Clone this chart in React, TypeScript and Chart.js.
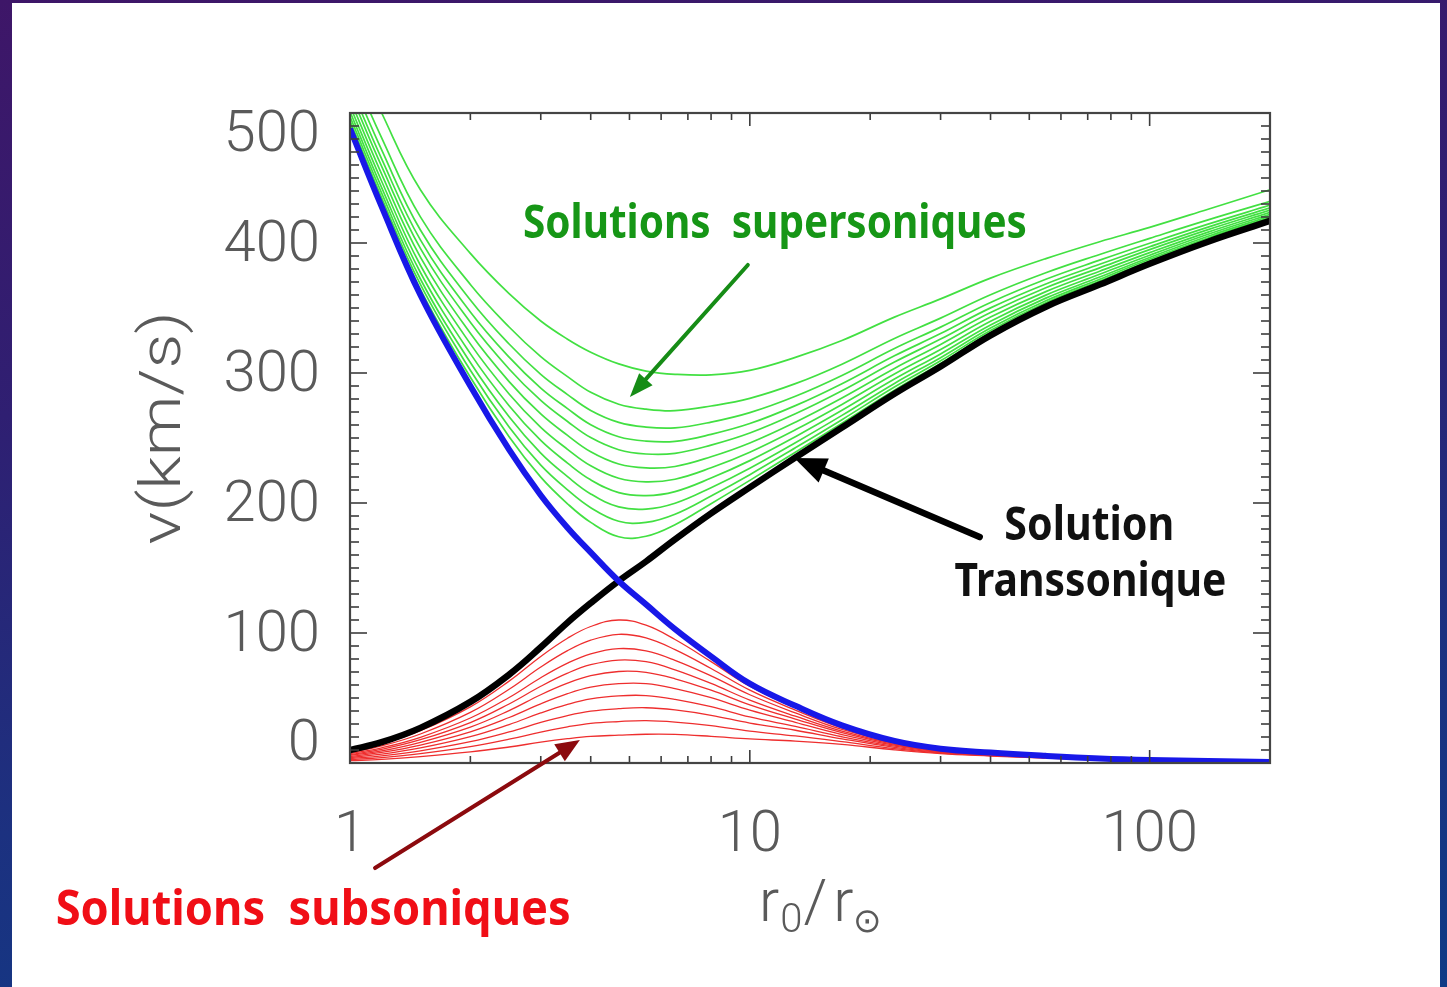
import { useEffect, useRef } from "react";
import { Chart, registerables } from "chart.js";

Chart.register(...registerables);

// Heliocentric distance r0 / r_sun at which every curve is sampled
const radius = [1, 1.2, 1.5, 2, 2.5, 3, 3.5, 4, 4.7, 5.5, 6.5, 8, 10, 13, 17, 23, 30, 40, 55, 75, 100, 140, 200];

// Critical solutions through the sonic point (km/s)
const transonicSolution = [10, 16, 27, 47, 68, 89, 108, 123, 140, 155, 172, 192, 212, 235, 258, 284, 305, 329, 351, 368, 384, 401, 417];
const decelCritical = [488, 428, 360, 290, 241, 206, 181, 162, 140, 122, 103, 82, 61, 44, 29, 17, 11, 8, 5.5, 3.5, 2.3, 1.5, 0.8];

// Supersonic family (lowest to highest minimum)
const supersonic01 = [491.3, 431.7, 364.4, 296.7, 251, 219.9, 199.4, 185.1, 174, 174.4, 183.3, 199.5, 217.4, 239.1, 261.4, 286.8, 307.4, 331, 352.6, 369.4, 385.2, 402, 417.9];
const supersonic02 = [494, 434.8, 368.1, 302.1, 258.4, 229.1, 210.1, 196.4, 186, 185.1, 191.4, 205.4, 221.8, 242.5, 264.1, 289.2, 309.4, 332.7, 354, 370.7, 386.2, 402.9, 418.7];
const supersonic03 = [497.2, 438.4, 372.3, 308.1, 266.3, 238.4, 220.3, 207, 197, 195.3, 199.8, 211.8, 226.8, 246.4, 267.4, 292, 311.8, 334.6, 355.6, 372.1, 387.5, 403.9, 419.6];
const supersonic04 = [501.1, 442.6, 377.3, 314.9, 274.8, 248.1, 230.7, 217.8, 208, 205.7, 208.8, 219.2, 232.6, 251, 271.3, 295.3, 314.7, 337, 357.6, 373.8, 388.9, 405.2, 420.7];
const supersonic05 = [505.5, 447.5, 382.9, 322.4, 283.9, 258.2, 241.3, 228.6, 219, 216.3, 218.3, 227.1, 239.1, 256.3, 275.8, 299.2, 318.1, 339.8, 359.9, 375.9, 390.6, 406.7, 422.1];
const supersonic06 = [510.5, 453, 389.1, 330.5, 293.4, 268.5, 252, 239.4, 230, 227, 228.1, 235.6, 246.2, 262.2, 280.8, 303.5, 321.9, 343, 362.6, 378.3, 392.6, 408.4, 423.6];
const supersonic07 = [515.9, 458.9, 395.9, 339, 303.1, 278.9, 262.7, 250.3, 241, 237.7, 238.2, 244.5, 253.8, 268.6, 286.3, 308.4, 326.1, 346.5, 365.6, 380.9, 394.9, 410.3, 425.3];
const supersonic08 = [521.3, 464.7, 402.4, 347, 312.2, 288.4, 272.6, 260.2, 251, 247.6, 247.4, 252.8, 261.1, 274.9, 291.8, 313.2, 330.3, 350.1, 368.5, 383.6, 397.1, 412.2, 427];
const supersonic09 = [527.6, 471.6, 410, 356.2, 322.3, 299, 283.4, 271.2, 262, 258.4, 257.8, 262.2, 269.5, 282.1, 298.1, 318.8, 335.3, 354.3, 372.1, 386.8, 399.8, 414.5, 429.1];
const supersonic10 = [536.2, 480.8, 420.1, 368.1, 335.4, 312.6, 297.2, 285.1, 276, 272.2, 271, 274.6, 280.5, 291.8, 306.8, 326.6, 342.2, 360.2, 377.1, 391.2, 403.6, 417.8, 432];
const supersonic11 = [554, 500, 441, 392, 361, 340, 326, 316, 307, 301.5, 299, 298.5, 302, 312, 325, 343, 357, 373, 388, 401, 412, 426, 441];

// Subsonic family (highest to lowest peak)
const subsonic01 = [9, 14.6, 24.8, 43.2, 63, 82, 96, 105, 110, 106, 95, 78, 59, 42.5, 28, 16.5, 10.5, 7.5, 5.2, 3.3, 2.1, 1.4, 0.7];
const subsonic02 = [8.1, 13.1, 22.3, 38.9, 56.7, 73.8, 86.4, 94.5, 99, 96.2, 87.2, 72.7, 56, 40.7, 27, 16, 10.3, 7.35, 5.1, 3.2, 2.05, 1.37, 0.69];
const subsonic03 = [7.2, 11.7, 19.8, 34.6, 50.4, 65.6, 76.8, 84, 88, 86.2, 79, 67, 52.5, 38.5, 25.8, 15.5, 10, 7.2, 5, 3.15, 2, 1.34, 0.67];
const subsonic04 = [6.5, 10.5, 17.9, 31.1, 45.4, 59, 69.1, 75.6, 79.2, 77.9, 71.7, 61.2, 48.4, 36, 24.5, 14.9, 9.6, 7, 4.8, 3.05, 1.95, 1.3, 0.65];
const subsonic05 = [5.8, 9.3, 15.9, 27.6, 40.3, 52.5, 61.4, 67.2, 70.4, 69.7, 64.8, 56, 44.8, 33.8, 23.3, 14.3, 9.4, 6.8, 4.7, 3, 1.9, 1.27, 0.63];
const subsonic06 = [5, 8.1, 13.8, 24, 35, 45.5, 53.3, 58.3, 61, 61, 57.2, 50.2, 40.7, 31.3, 21.9, 13.7, 9, 6.6, 4.55, 2.9, 1.85, 1.23, 0.61];
const subsonic07 = [4.2, 6.8, 11.6, 20.3, 29.6, 38.5, 45.1, 49.4, 51.7, 51.9, 49, 43.3, 35.4, 28.1, 20.2, 12.9, 8.6, 6.3, 4.4, 2.8, 1.76, 1.18, 0.59];
const subsonic08 = [3.4, 5.5, 9.4, 16.4, 23.9, 31.2, 36.5, 39.9, 41.8, 42.5, 40.8, 36.7, 30.7, 25.2, 18.6, 12.1, 8.2, 6.1, 4.2, 2.67, 1.7, 1.13, 0.57];
const subsonic09 = [2.6, 4.2, 7.2, 12.6, 18.3, 23.8, 27.8, 30.5, 31.9, 32.6, 31.5, 28.7, 24.5, 20.8, 16.4, 11.1, 7.7, 5.7, 4, 2.5, 1.6, 1.07, 0.53];
const subsonic10 = [1.8, 2.8, 4.9, 8.5, 12.3, 16, 18.7, 20.5, 21.4, 22.1, 22, 20.5, 18.5, 16.8, 14.3, 10.1, 7.2, 5.4, 3.7, 2.4, 1.5, 1, 0.5];

const xTickValues = [1, 10, 100];
const yTickValues = [0, 100, 200, 300, 400, 500];

const supersonicFamily = [
  supersonic01, supersonic02, supersonic03, supersonic04, supersonic05, supersonic06,
  supersonic07, supersonic08, supersonic09, supersonic10, supersonic11,
];
const subsonicFamily = [
  subsonic01, subsonic02, subsonic03, subsonic04, subsonic05,
  subsonic06, subsonic07, subsonic08, subsonic09, subsonic10,
];

const AXIS_FONT = "Roboto, 'DejaVu Sans', sans-serif";
const NOTE_FONT = "'Comic Sans MS', 'Noto Sans', 'Open Sans', sans-serif";
const AXIS_GREY = "#5a5a5a";

const toPoints = (speeds: number[]) => radius.map((r, i) => ({ x: r, y: speeds[i] }));

const curve = (label: string, speeds: number[], color: string, width: number) => ({
  label,
  data: toPoints(speeds),
  borderColor: color,
  backgroundColor: color,
  borderWidth: width,
  pointRadius: 0,
  pointHoverRadius: 0,
  fill: false,
  tension: 0.4,
});

const datasets = [
  curve("Solution critique décélérée", decelCritical, "rgb(24, 24, 232)", 6),
  curve("Solution transsonique", transonicSolution, "#000000", 6.5),
  ...supersonicFamily.map((s, i) => curve(`Supersonique ${i + 1}`, s, "rgb(66, 224, 66)", 1.7)),
  ...subsonicFamily.map((s, i) => curve(`Subsonique ${i + 1}`, s, "rgb(238, 46, 46)", 1.3)),
];

// Annotation anchors in data coordinates (r, v)
const notes = [
  { text: "Solutions  supersoniques", r: 2.707, v: 403.8, width: 504, size: 46, color: "rgb(22, 150, 22)" },
  { text: "Solution", r: 43.3, v: 171.5, width: 170, size: 46, color: "#111111" },
  { text: "Transsonique", r: 32.5, v: 128.5, width: 272, size: 46, color: "#111111" },
  { text: "Solutions  subsoniques", r: 0.1836, v: -124.6, width: 515, size: 48, color: "rgb(240, 14, 22)" },
];
const arrows = [
  { from: [9.886, 383.1], to: [5.012, 281.5], color: "rgb(22, 140, 22)", width: 4, head: 24, spread: 18 },
  { from: [37.58, 173.8], to: [12.92, 234.6], color: "#000000", width: 6.5, head: 32, spread: 26 },
  { from: [1.155, -80.8], to: [3.758, 17.7], color: "rgb(140, 10, 14)", width: 4, head: 24, spread: 20 },
];

function stretchedText(ctx: CanvasRenderingContext2D, text: string, x: number, y: number, width: number, font: string, color: string) {
  ctx.save();
  ctx.font = font;
  ctx.fillStyle = color;
  ctx.textAlign = "left";
  ctx.textBaseline = "alphabetic";
  const w = ctx.measureText(text).width;
  ctx.translate(x, y);
  ctx.scale(width / w, 1);
  ctx.fillText(text, 0, 0);
  ctx.restore();
}

function arrow(ctx: CanvasRenderingContext2D, x0: number, y0: number, x1: number, y1: number, color: string, width: number, head: number, spread: number) {
  const a = Math.atan2(y1 - y0, x1 - x0);
  const bx = x1 - head * Math.cos(a);
  const by = y1 - head * Math.sin(a);
  ctx.save();
  ctx.strokeStyle = color;
  ctx.fillStyle = color;
  ctx.lineWidth = width;
  ctx.lineCap = "round";
  ctx.beginPath();
  ctx.moveTo(x0, y0);
  ctx.lineTo(bx, by);
  ctx.stroke();
  const px = -Math.sin(a) * spread / 2;
  const py = Math.cos(a) * spread / 2;
  ctx.beginPath();
  ctx.moveTo(x1, y1);
  ctx.lineTo(bx + px, by + py);
  ctx.lineTo(bx - px, by - py);
  ctx.closePath();
  ctx.fill();
  ctx.restore();
}

const frameAndNotes = {
  id: "frameAndNotes",
  afterDatasetsDraw(chart: any) {
    const { ctx, chartArea: a, scales } = chart;
    const xs = scales.x;
    const ys = scales.y;
    ctx.save();

    // inward tick marks on all four sides
    ctx.strokeStyle = "#3c3c3c";
    ctx.lineWidth = 1.6;
    const seg = (x0: number, y0: number, x1: number, y1: number) => {
      ctx.beginPath();
      ctx.moveTo(x0, y0);
      ctx.lineTo(x1, y1);
      ctx.stroke();
    };
    for (let v = ys.min; v <= ys.max; v += 10) {
      const py = ys.getPixelForValue(v);
      const len = v % 100 === 0 ? 17 : 9;
      seg(a.left, py, a.left + len, py);
      seg(a.right, py, a.right - len, py);
    }
    for (let d = 1; d <= xs.max; d *= 10) {
      for (let m = 1; m <= 9; m++) {
        const v = d * m;
        if (v > xs.max) break;
        const px = xs.getPixelForValue(v);
        const len = m === 1 ? 13 : 7;
        seg(px, a.top, px, a.top + len);
        seg(px, a.bottom, px, a.bottom - len);
      }
    }
    ctx.lineWidth = 2.2;
    ctx.strokeStyle = "#444444";
    ctx.strokeRect(a.left, a.top, a.right - a.left, a.bottom - a.top);

    // axis titles
    ctx.fillStyle = AXIS_GREY;
    ctx.save();
    ctx.font = `300 58px ${AXIS_FONT}`;
    const yTitle = "v(km/s)";
    const tw = ctx.measureText(yTitle).width;
    ctx.translate(a.left - 185, a.top + 315);
    ctx.rotate(-Math.PI / 2);
    ctx.scale(233 / tw, 1);
    ctx.textAlign = "center";
    ctx.textBaseline = "middle";
    ctx.fillText(yTitle, 0, 0);
    ctx.restore();

    const base = a.bottom + 158;
    let cx = (a.left + a.right) / 2 - 51;
    const mainFont = `300 60px ${AXIS_FONT}`;
    const subFont = `300 40px ${AXIS_FONT}`;
    const parts: [string, string, number, number][] = [
      ["r", mainFont, 0, 1],
      ["0", subFont, 11, 1],
      ["/", mainFont, 0, 6],
      ["r", mainFont, 0, 0],
      ["\u2299", `300 34px 'DejaVu Sans', ${AXIS_FONT}`, 11, 0],
    ];
    ctx.textAlign = "left";
    ctx.textBaseline = "alphabetic";
    for (const [t, f, dy, gap] of parts) {
      ctx.font = f;
      ctx.fillText(t, cx, base + dy);
      cx += ctx.measureText(t).width + gap;
    }

    // arrows and labels
    for (const ar of arrows) {
      arrow(
        ctx,
        xs.getPixelForValue(ar.from[0]), ys.getPixelForValue(ar.from[1]),
        xs.getPixelForValue(ar.to[0]), ys.getPixelForValue(ar.to[1]),
        ar.color, ar.width, ar.head, ar.spread,
      );
    }
    for (const n of notes) {
      stretchedText(ctx, n.text, xs.getPixelForValue(n.r), ys.getPixelForValue(n.v), n.width, `bold ${n.size}px ${NOTE_FONT}`, n.color);
    }
    ctx.restore();
  },
};

export default function App() {
  const canvasRef = useRef<HTMLCanvasElement | null>(null);

  useEffect(() => {
    const canvas = canvasRef.current;
    if (!canvas) return;
    const chart = new Chart(canvas, {
      type: "line",
      data: { datasets: datasets as any },
      options: {
        animation: false,
        responsive: false,
        devicePixelRatio: 1,
        events: [],
        layout: { padding: { left: 0, top: 110, right: 170, bottom: 0 } },
        plugins: { legend: { display: false }, tooltip: { enabled: false } },
        scales: {
          x: {
            type: "logarithmic",
            min: 1,
            max: 200,
            afterBuildTicks: (s: any) => {
              s.ticks = xTickValues.map((value) => ({ value }));
            },
            afterFit: (s: any) => {
              s.height = 224;
            },
            grid: { display: false },
            border: { display: false },
            ticks: {
              autoSkip: false,
              maxRotation: 0,
              padding: 36,
              color: AXIS_GREY,
              font: { family: AXIS_FONT, size: 58, weight: "300", lineHeight: 1 },
              callback: (value: any) => String(value),
            },
          },
          y: {
            type: "linear",
            min: 0,
            max: 500,
            afterBuildTicks: (s: any) => {
              s.ticks = yTickValues.map((value) => ({ value }));
            },
            afterFit: (s: any) => {
              s.width = 338;
            },
            grid: { display: false },
            border: { display: false },
            ticks: {
              padding: 22,
              labelOffset: 3,
              color: AXIS_GREY,
              font: { family: AXIS_FONT, size: 58, weight: "300", lineHeight: 0.69 },
              callback: (value: any) => {
                const v = Number(value);
                if (v === yTickValues[yTickValues.length - 1]) return ["", String(v)];
                if (v === yTickValues[0]) return [String(v), ""];
                return String(v);
              },
            },
          },
        },
      } as any,
      plugins: [frameAndNotes],
    });
    return () => chart.destroy();
  }, []);

  return (
    <div
      style={{
        position: "fixed",
        left: 0,
        top: 0,
        width: 1447,
        height: 987,
        overflow: "hidden",
        background: "linear-gradient(172deg, #3e1668 0%, #2f1f72 35%, #1c3180 70%, #0f3a85 100%)",
      }}
    >
      <div style={{ position: "absolute", left: 12, top: 3, width: 1428, height: 984, background: "#ffffff" }}>
        <canvas ref={canvasRef} width={1428} height={984} style={{ display: "block", width: 1428, height: 984 }} />
      </div>
    </div>
  );
}
